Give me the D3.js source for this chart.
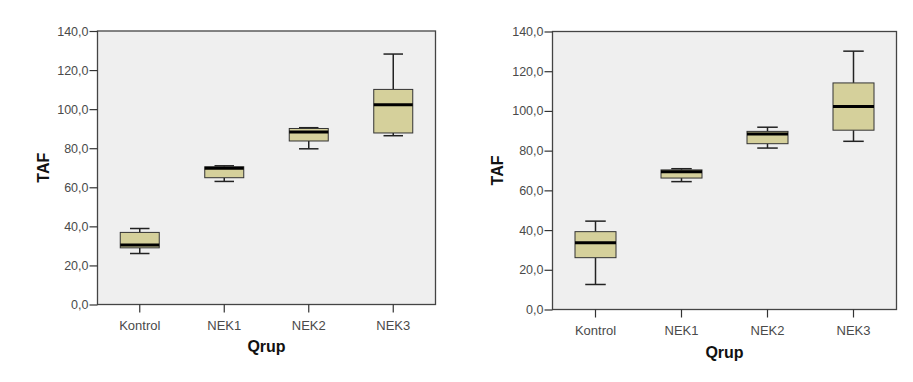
<!DOCTYPE html>
<meta charset="utf-8">
<script src="https://d3js.org/d3.v7.min.js"></script>
<style>
body { margin: 0; background: #fff; }
text { font-family: "Liberation Sans", Arial, sans-serif; }
.tick text { fill: #4a4a4a; font-size: 12.5px; }
.tick line { stroke: #333; stroke-width: 1.2px; }
.frame { fill: #efefef; stroke: #444; stroke-width: 1.3px; }
.box { fill: #d5d09b; stroke: #333; stroke-width: 1px; }
.whisker { stroke: #222; stroke-width: 1.5px; }
.median { stroke: #000; stroke-width: 3px; }
.label { font-weight: bold; font-size: 16px; fill: #111; }
</style>
<body>
<script>

// groups on the x axis
var groups = ["Kontrol", "NEK1", "NEK2", "NEK3"];
var yTicks = [0, 20, 40, 60, 80, 100, 120, 140];

// left plot
var leftMin = [26.1, 63.0, 79.7, 86.4];
var leftQ1  = [29.0, 64.9, 83.7, 87.8];
var leftMed = [30.4, 69.8, 88.3, 102.3];
var leftQ3  = [36.9, 70.5, 90.1, 110.1];
var leftMax = [38.9, 71.0, 90.5, 128.2];

// right plot
var rightMin = [12.6, 64.4, 81.3, 84.7];
var rightQ1  = [26.1, 66.2, 83.5, 90.3];
var rightMed = [33.6, 69.4, 88.4, 102.2];
var rightQ3  = [39.2, 70.3, 89.7, 114.1];
var rightMax = [44.5, 70.9, 91.8, 130.1];

var width = 913, height = 382;

var svg = d3.select("body").append("svg")
    .attr("width", width)
    .attr("height", height);

function toRows(mn, q1, med, q3, mx) {
  return groups.map(function(g, i) {
    return {name: g, min: mn[i], q1: q1[i], med: med[i], q3: q3[i], max: mx[i]};
  });
}

var fmt = function(d) { return d3.format(".1f")(d).replace(".", ","); };

function drawPanel(rows, box) {
  var x = d3.scaleBand().domain(groups).range([box.x0, box.x1]);
  var y = d3.scaleLinear().domain([0, 140]).range([box.y1, box.y0]);

  var g = svg.append("g");

  g.append("rect")
      .attr("class", "frame")
      .attr("x", box.x0)
      .attr("y", box.y0)
      .attr("width", box.x1 - box.x0)
      .attr("height", box.y1 - box.y0);

  var yAxis = g.append("g")
      .attr("transform", "translate(" + box.x0 + ",0)")
      .call(d3.axisLeft(y).tickValues(yTicks).tickFormat(fmt).tickSize(8).tickPadding(1));
  yAxis.select(".domain").remove();

  var xAxis = g.append("g")
      .attr("transform", "translate(0," + box.y1 + ")")
      .call(d3.axisBottom(x).tickSize(8).tickPadding(8));
  xAxis.select(".domain").remove();
  xAxis.selectAll(".tick text").style("font-size", "13px");

  var bw = box.bw, cw = box.bw / 2;

  var item = g.selectAll(".item")
      .data(rows)
      .enter().append("g")
      .attr("class", "item")
      .attr("transform", function(d) { return "translate(" + (x(d.name) + x.bandwidth() / 2) + ",0)"; });

  // whisker stems
  item.append("line").attr("class", "whisker")
      .attr("x1", 0).attr("x2", 0)
      .attr("y1", function(d) { return y(d.max); })
      .attr("y2", function(d) { return y(d.q3); });
  item.append("line").attr("class", "whisker")
      .attr("x1", 0).attr("x2", 0)
      .attr("y1", function(d) { return y(d.q1); })
      .attr("y2", function(d) { return y(d.min); });

  // caps
  item.append("line").attr("class", "whisker")
      .attr("x1", -cw / 2).attr("x2", cw / 2)
      .attr("y1", function(d) { return y(d.max); })
      .attr("y2", function(d) { return y(d.max); });
  item.append("line").attr("class", "whisker")
      .attr("x1", -cw / 2).attr("x2", cw / 2)
      .attr("y1", function(d) { return y(d.min); })
      .attr("y2", function(d) { return y(d.min); });

  item.append("rect").attr("class", "box")
      .attr("x", -bw / 2)
      .attr("width", bw)
      .attr("y", function(d) { return y(d.q3); })
      .attr("height", function(d) { return y(d.q1) - y(d.q3); });

  item.append("line").attr("class", "median")
      .attr("x1", -bw / 2).attr("x2", bw / 2)
      .attr("y1", function(d) { return y(d.med); })
      .attr("y2", function(d) { return y(d.med); });

  g.append("text")
      .attr("class", "label")
      .attr("text-anchor", "middle")
      .attr("transform", "translate(" + box.tafX + "," + ((box.y0 + box.y1) / 2) + ") rotate(-90)")
      .attr("dy", "0.35em")
      .text("TAF");

  g.append("text")
      .attr("class", "label")
      .attr("text-anchor", "middle")
      .attr("x", (box.x0 + box.x1) / 2)
      .attr("y", box.y1 + box.qy)
      .text("Qrup");
}

drawPanel(toRows(leftMin, leftQ1, leftMed, leftQ3, leftMax),
  {x0: 97.5, x1: 435.5, y0: 31, y1: 304.5, bw: 39, tafX: 43, qy: 47});

drawPanel(toRows(rightMin, rightQ1, rightMed, rightQ3, rightMax),
  {x0: 552.5, x1: 896.5, y0: 31.5, y1: 309.5, bw: 41, tafX: 497, qy: 48});

</script>
</body>
